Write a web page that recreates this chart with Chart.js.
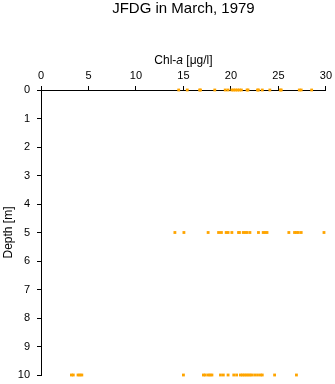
<!DOCTYPE html>
<html>
<head>
<meta charset="utf-8">
<script src="https://cdn.jsdelivr.net/npm/chart.js@4"></script>
<style>
html,body{margin:0;padding:0;background:#fff;}
#wrap{width:335px;height:384px;}
</style>
</head>
<body>
<div id="wrap"><canvas id="c" width="335" height="384"></canvas></div>
<script>
const titleText = "JFDG in March, 1979";
const xTitleParts = ["Chl-", "a", " [μg/l]"];
const yTitleText = "Depth [m]";
const depths = [0, 5, 10];
const chlDepth0 = [14.5, 15.4, 16.7, 16.8, 18.3, 19.4, 19.7, 20.1, 20.3, 20.5, 20.7, 20.9, 21.1, 21.7, 21.8, 22.8, 22.9, 23.3, 24.1, 25.2, 25.3, 27.2, 27.4, 28.5];
const chlDepth5 = [14.1, 15.05, 17.6, 18.7, 19.0, 19.5, 19.7, 20.1, 20.8, 20.9, 21.3, 21.5, 21.7, 22.0, 22.9, 23.4, 23.6, 23.8, 26.1, 26.7, 26.9, 27.1, 27.4, 29.8];
const chlDepth10 = [3.2, 3.4, 3.9, 4.1, 4.3, 15.0, 17.1, 17.3, 17.6, 17.8, 18.0, 18.9, 19.2, 19.7, 20.3, 20.6, 21.0, 21.2, 21.4, 21.6, 21.8, 22.0, 22.2, 22.5, 22.8, 23.1, 23.3, 24.6, 26.9];

const FONT = "'Liberation Sans', Arial, sans-serif";
const series = [chlDepth0, chlDepth5, chlDepth10];
const points = [];
series.forEach((arr, i) => arr.forEach(v => points.push({x: v, y: depths[i]})));

const xTitlePlugin = {
  id: 'xTitle',
  afterDraw(chart) {
    const ctx = chart.ctx;
    const area = chart.chartArea;
    const cx = (area.left + area.right) / 2;
    const y = 61;
    ctx.save();
    ctx.fillStyle = '#000';
    ctx.textBaseline = 'middle';
    const fonts = ["12px " + FONT, "italic 12px " + FONT, "12px " + FONT];
    let widths = xTitleParts.map((t, i) => { ctx.font = fonts[i]; return ctx.measureText(t).width; });
    let total = widths.reduce((a, b) => a + b, 0);
    let x = cx - total / 2;
    ctx.textAlign = 'left';
    xTitleParts.forEach((t, i) => { ctx.font = fonts[i]; ctx.fillText(t, x, y); x += widths[i]; });
    ctx.restore();
  }
};

new Chart(document.getElementById('c'), {
  type: 'scatter',
  data: {
    datasets: [{
      data: points,
      backgroundColor: '#FFA500',
      borderColor: '#FFA500',
      borderWidth: 0,
      pointStyle: 'rect',
      pointRadius: 2,
      clip: false
    }]
  },
  options: {
    responsive: false,
    animation: false,
    devicePixelRatio: 1,
    layout: { padding: { left: 0, right: 9, top: 0, bottom: 9 } },
    plugins: {
      legend: { display: false },
      tooltip: { enabled: false },
      title: {
        display: true,
        fullSize: false,
        text: titleText,
        color: '#000',
        font: { family: FONT, size: 15, weight: 'normal', lineHeight: 1.2 },
        padding: { top: 0, bottom: 0 }
      }
    },
    scales: {
      x: {
        type: 'linear',
        position: 'top',
        min: 0, max: 30,
        afterFit(scale) { scale.height = 72; },
        ticks: { stepSize: 5, color: '#000', padding: 3, maxRotation: 0, font: { family: FONT, size: 11 } },
        grid: { drawOnChartArea: false, tickLength: 4, tickColor: '#000', lineWidth: 1 },
        border: { display: true, color: '#000', width: 1 }
      },
      y: {
        type: 'linear',
        reverse: true,
        min: 0, max: 10,
        afterFit(scale) { scale.width = 41; scale.paddingTop = 0; scale.paddingBottom = 0; },
        ticks: { stepSize: 1, color: '#000', padding: 7, font: { family: FONT, size: 11 } },
        grid: { drawOnChartArea: false, tickLength: 4, tickColor: '#000', lineWidth: 1 },
        border: { display: true, color: '#000', width: 1 },
        title: { display: true, text: yTitleText, color: '#000', padding: 1, font: { family: FONT, size: 12 } }
      }
    }
  },
  plugins: [xTitlePlugin]
});
</script>
</body>
</html>
